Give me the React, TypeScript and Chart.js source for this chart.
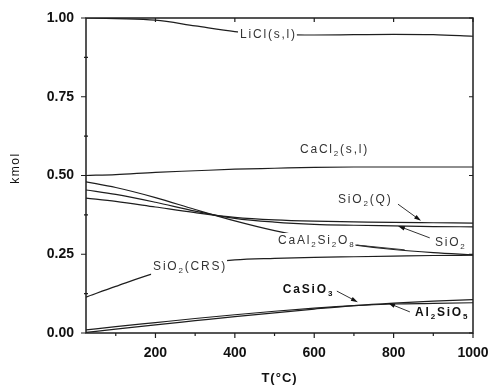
import React, { useEffect, useRef } from 'react';
import { Chart, registerables } from 'chart.js';

Chart.register(...registerables);

const temperatures = [25, 100, 200, 300, 400, 500, 600, 700, 800, 900, 1000];
const liclValues = [1.0, 0.998, 0.993, 0.975, 0.957, 0.949, 0.946, 0.947, 0.948, 0.947, 0.942];
const cacl2Values = [0.5, 0.503, 0.51, 0.515, 0.52, 0.523, 0.526, 0.527, 0.527, 0.527, 0.527];
const sio2QValues = [0.428, 0.418, 0.4, 0.382, 0.367, 0.359, 0.355, 0.353, 0.351, 0.35, 0.349];
const sio2Values = [0.454, 0.44, 0.415, 0.387, 0.364, 0.352, 0.345, 0.342, 0.34, 0.338, 0.337];
const caAl2Si2O8Values = [0.48, 0.462, 0.43, 0.392, 0.356, 0.325, 0.3, 0.28, 0.265, 0.255, 0.248];
const sio2CrsValues = [0.114, 0.148, 0.19, 0.215, 0.232, 0.237, 0.24, 0.242, 0.244, 0.246, 0.247];
const caSiO3Values = [0.01, 0.02, 0.033, 0.046, 0.058, 0.069, 0.079, 0.087, 0.092, 0.094, 0.096];
const al2SiO5Values = [0.002, 0.012, 0.026, 0.039, 0.052, 0.064, 0.076, 0.087, 0.095, 0.101, 0.106];

const seriesNames = ['LiCl(s,l)', 'CaCl2(s,l)', 'SiO2(Q)', 'SiO2', 'CaAl2Si2O8', 'SiO2(CRS)', 'CaSiO3', 'Al2SiO5'];
const seriesValues = [liclValues, cacl2Values, sio2QValues, sio2Values, caAl2Si2O8Values, sio2CrsValues, caSiO3Values, al2SiO5Values];

const xTickValues = [200, 400, 600, 800, 1000];
const xMinorTicks = [100, 300, 500, 700, 900];
const yTickValues = [0, 0.25, 0.5, 0.75, 1.0];
const yMinorTicks = [0.125, 0.375, 0.625, 0.875];

const xTitle = 'T(°C)';
const yTitle = 'kmol';

type Part = [string, boolean];
type Label = { parts: Part[]; x: number; y: number; bold: boolean; bg: boolean };

// label anchors in data units (T, kmol): left / vertical middle
const labels: Label[] = [
  { parts: [['LiCl(s,l)', false]], x: 413, y: 0.946, bold: false, bg: true },
  { parts: [['CaCl', false], ['2', true], ['(s,l)', false]], x: 564, y: 0.581, bold: false, bg: false },
  { parts: [['SiO', false], ['2', true], ['(Q)', false]], x: 660, y: 0.422, bold: false, bg: false },
  { parts: [['SiO', false], ['2', true]], x: 904, y: 0.286, bold: false, bg: false },
  { parts: [['CaAl', false], ['2', true], ['Si', false], ['2', true], ['O', false], ['8', true]], x: 509, y: 0.292, bold: false, bg: true },
  { parts: [['SiO', false], ['2', true], ['(CRS)', false]], x: 194, y: 0.21, bold: false, bg: true },
  { parts: [['CaSiO', false], ['3', true]], x: 521, y: 0.137, bold: true, bg: false },
  { parts: [['Al', false], ['2', true], ['SiO', false], ['5', true]], x: 854, y: 0.063, bold: true, bg: false },
];

// leader lines in data units: [x1, y1, x2, y2, arrowhead]
const leaders: [number, number, number, number, boolean][] = [
  [811, 0.409, 869, 0.356, true],
  [891, 0.302, 811, 0.34, true],
  [708, 0.279, 828, 0.264, false],
  [657, 0.133, 710, 0.098, true],
  [841, 0.067, 786, 0.095, true],
];

const INK = '#1e1e1e';
const TEXT = '#333333';

function drawRich(ctx: CanvasRenderingContext2D, parts: Part[], x: number, y: number, bold: boolean, bg: boolean) {
  const main = `${bold ? 'bold ' : ''}12px "Liberation Sans", Arial, sans-serif`;
  const sub = `${bold ? 'bold ' : ''}8px "Liberation Sans", Arial, sans-serif`;
  (ctx as any).letterSpacing = '1.8px';
  let w = 0;
  for (const [t, s] of parts) {
    ctx.font = s ? sub : main;
    w += ctx.measureText(t).width;
  }
  if (bg) {
    ctx.fillStyle = '#ffffff';
    ctx.fillRect(x - 2, y - 8, w + 2, 17);
  }
  ctx.fillStyle = bold ? '#111111' : TEXT;
  ctx.textBaseline = 'middle';
  ctx.textAlign = 'left';
  let cx = x;
  for (const [t, s] of parts) {
    ctx.font = s ? sub : main;
    ctx.fillText(t, cx, s ? y + 4 : y);
    cx += ctx.measureText(t).width;
  }
  (ctx as any).letterSpacing = '0px';
}

function drawArrow(ctx: CanvasRenderingContext2D, x1: number, y1: number, x2: number, y2: number, head: boolean) {
  ctx.strokeStyle = TEXT;
  ctx.fillStyle = '#111';
  ctx.lineWidth = 1;
  const ang = Math.atan2(y2 - y1, x2 - x1);
  const L = head ? 7 : 0;
  ctx.beginPath();
  ctx.moveTo(x1, y1);
  ctx.lineTo(x2 - Math.cos(ang) * L * 0.8, y2 - Math.sin(ang) * L * 0.8);
  ctx.stroke();
  if (head) {
    ctx.beginPath();
    ctx.moveTo(x2, y2);
    ctx.lineTo(x2 - Math.cos(ang) * L + Math.sin(ang) * 2.2, y2 - Math.sin(ang) * L - Math.cos(ang) * 2.2);
    ctx.lineTo(x2 - Math.cos(ang) * L - Math.sin(ang) * 2.2, y2 - Math.sin(ang) * L + Math.cos(ang) * 2.2);
    ctx.closePath();
    ctx.fill();
  }
}

const framePlugin = {
  id: 'framePlugin',
  afterDatasetsDraw(chart: any) {
    const { ctx, chartArea } = chart;
    const xs = chart.scales.x;
    const ys = chart.scales.y;
    const { left, right, top, bottom } = chartArea;
    ctx.save();
    // annotations
    for (const lb of labels) {
      drawRich(ctx, lb.parts, xs.getPixelForValue(lb.x), ys.getPixelForValue(lb.y), lb.bold, lb.bg);
    }
    for (const [a, b, c, d, h] of leaders) {
      drawArrow(ctx, xs.getPixelForValue(a), ys.getPixelForValue(b), xs.getPixelForValue(c), ys.getPixelForValue(d), h);
    }
    // frame
    ctx.strokeStyle = INK;
    ctx.lineWidth = 1.5;
    ctx.strokeRect(left, top, right - left, bottom - top);
    ctx.lineWidth = 1.2;
    ctx.beginPath();
    for (const v of xTickValues) {
      const px = xs.getPixelForValue(v);
      ctx.moveTo(px, bottom); ctx.lineTo(px, bottom + 5);
      ctx.moveTo(px, top); ctx.lineTo(px, top + 4);
    }
    for (const v of xMinorTicks) {
      const px = xs.getPixelForValue(v);
      ctx.moveTo(px, bottom); ctx.lineTo(px, bottom + 3);
    }
    for (const v of yTickValues) {
      const py = ys.getPixelForValue(v);
      ctx.moveTo(left - 5, py); ctx.lineTo(left, py);
      ctx.moveTo(right - 4, py); ctx.lineTo(right, py);
    }
    for (const v of yMinorTicks) {
      const py = ys.getPixelForValue(v);
      ctx.moveTo(left - 2, py); ctx.lineTo(left + 2, py);
    }
    ctx.stroke();
    // axis titles
    ctx.fillStyle = '#111';
    ctx.textAlign = 'center';
    ctx.textBaseline = 'middle';
    ctx.font = 'bold 13px "Liberation Sans", Arial, sans-serif';
    (ctx as any).letterSpacing = '1px';
    ctx.fillText(xTitle, (left + right) / 2, 378);
    ctx.translate(16, 168);
    ctx.rotate(-Math.PI / 2);
    ctx.font = '12px "Liberation Sans", Arial, sans-serif';
    (ctx as any).letterSpacing = '1.5px';
    ctx.fillText(yTitle, 0, 0);
    (ctx as any).letterSpacing = '0px';
    ctx.restore();
  },
};

export default function App() {
  const ref = useRef<HTMLCanvasElement | null>(null);
  useEffect(() => {
    document.body.style.margin = '0';
    if (!ref.current) return;
    const chart = new Chart(ref.current, {
      type: 'line',
      data: {
        labels: temperatures,
        datasets: seriesNames.map((name, i) => ({
          label: name,
          data: temperatures.map((t, j) => ({ x: t, y: seriesValues[i][j] })),
          borderColor: INK,
          borderWidth: 1.2,
          pointRadius: 0,
          fill: false,
          cubicInterpolationMode: 'monotone' as const,
        })),
      },
      options: {
        animation: false,
        responsive: true,
        maintainAspectRatio: false,
        layout: { padding: { left: 0, top: 18, right: 17, bottom: 0 } },
        plugins: { legend: { display: false }, tooltip: { enabled: false } },
        scales: {
          x: {
            type: 'linear',
            min: 25,
            max: 1000,
            afterBuildTicks: (scale: any) => {
              scale.ticks = xTickValues.map((v) => ({ value: v }));
            },
            afterFit: (scale: any) => {
              scale.height = 52;
              scale.paddingLeft = 0;
              scale.paddingRight = 0;
            },
            grid: { display: false, drawTicks: false },
            border: { display: false },
            ticks: {
              padding: 12,
              color: '#111',
              font: { family: '"Liberation Sans", Arial, sans-serif', size: 14, weight: 'bold' },
              callback: (v: any) => String(v),
              maxRotation: 0,
            },
          },
          y: {
            type: 'linear',
            min: 0,
            max: 1,
            afterBuildTicks: (scale: any) => {
              scale.ticks = yTickValues.map((v) => ({ value: v }));
            },
            afterFit: (scale: any) => {
              scale.width = 86;
              scale.paddingTop = 0;
              scale.paddingBottom = 0;
            },
            grid: { display: false, drawTicks: false },
            border: { display: false },
            ticks: {
              padding: 12,
              color: '#111',
              font: { family: '"Liberation Sans", Arial, sans-serif', size: 14, weight: 'bold' },
              callback: (v: any) => Number(v).toFixed(2),
            },
          },
        },
      },
      plugins: [framePlugin],
    });
    return () => chart.destroy();
  }, []);
  return (
    <div style={{ position: 'absolute', left: 0, top: 0, width: 490, height: 385, background: '#fff' }}>
      <canvas ref={ref} />
    </div>
  );
}
